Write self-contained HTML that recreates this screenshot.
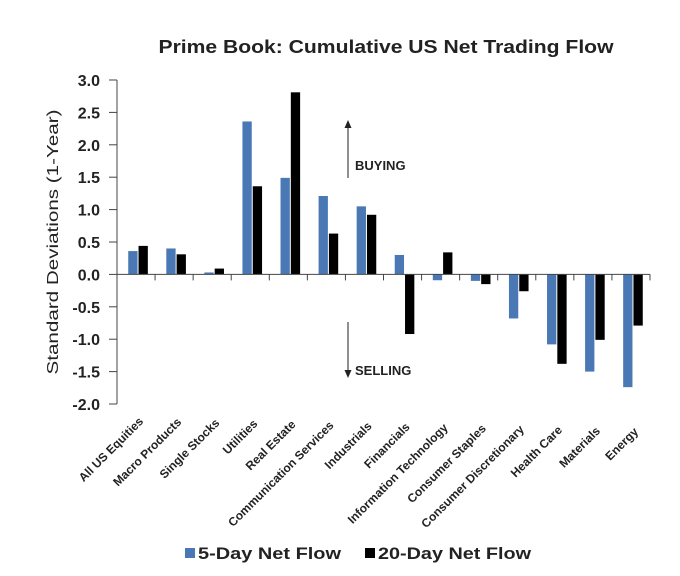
<!DOCTYPE html>
<html><head><meta charset="utf-8"><style>
html,body{margin:0;padding:0;background:#fff;}
svg{display:block;font-family:"Liberation Sans",Arial,sans-serif;}
</style></head><body>
<svg id="chart" width="680" height="576" viewBox="0 0 680 576">
<text x="386" y="53" text-anchor="middle" font-size="18" font-weight="bold" fill="#222" textLength="455" lengthAdjust="spacingAndGlyphs">Prime Book: Cumulative US Net Trading Flow</text>
<text transform="translate(58,242) rotate(-90)" text-anchor="middle" font-size="16" fill="#222" textLength="265" lengthAdjust="spacingAndGlyphs">Standard Deviations (1-Year)</text>
<g id="yaxis"></g>
<g id="bars"></g>
<g id="xaxis"></g>
<g>
<line x1="348" y1="178" x2="348" y2="127" stroke="#222" stroke-width="1"/>
<polygon points="344.5,128 351.5,128 348,120" fill="#222"/>
<text x="355" y="170" font-size="13" font-weight="bold" fill="#222">BUYING</text>
</g>
<g>
<line x1="348" y1="322" x2="348" y2="371" stroke="#222" stroke-width="1"/>
<polygon points="344.5,370 351.5,370 348,378" fill="#222"/>
<text x="355" y="375" font-size="13" font-weight="bold" fill="#222">SELLING</text>
</g>
<g>
<rect x="185" y="548" width="10" height="10" fill="#4a78b5"/>
<text x="198" y="559" font-size="17" font-weight="bold" fill="#222" textLength="143" lengthAdjust="spacingAndGlyphs">5-Day Net Flow</text>
<rect x="365" y="548" width="10" height="10" fill="#000"/>
<text x="378" y="559" font-size="17" font-weight="bold" fill="#222" textLength="153" lengthAdjust="spacingAndGlyphs">20-Day Net Flow</text>
</g>
</svg>
<script>
const categories = ["All US Equities","Macro Products","Single Stocks","Utilities","Real Estate","Communication Services","Industrials","Financials","Information Technology","Consumer Staples","Consumer Discretionary","Health Care","Materials","Energy"];
const fiveDay = [0.36,0.40,0.03,2.36,1.49,1.21,1.05,0.30,-0.09,-0.10,-0.68,-1.08,-1.50,-1.74];
const twentyDay = [0.44,0.31,0.09,1.36,2.81,0.63,0.92,-0.92,0.34,-0.15,-0.26,-1.38,-1.01,-0.79];
const yTicks = [3.0,2.5,2.0,1.5,1.0,0.5,0.0,-0.5,-1.0,-1.5,-2.0];

const NS = "http://www.w3.org/2000/svg";
const X0 = 117, X1 = 650, Y_TOP = 80, Y_BOT = 404, YMAX = 3, YMIN = -2;
const bandW = (X1 - X0) / categories.length;
function y(v){ return Y_TOP + (YMAX - v) / (YMAX - YMIN) * (Y_BOT - Y_TOP); }
function xc(i){ return X0 + bandW * (i + 0.5); }
function mk(tag, attrs, parent){ const e = document.createElementNS(NS, tag); for (const k in attrs) e.setAttribute(k, attrs[k]); parent.appendChild(e); return e; }

const yaxis = document.getElementById('yaxis');
const axl = mk('line', {x1:X0, y1:Y_TOP, x2:X0, y2:Y_BOT, stroke:'#444', 'stroke-width':1}, yaxis);


yTicks.forEach(t => {
  const tk = mk('line', {x1:X0-8, y1:y(t), x2:X0, y2:y(t), stroke:'#444', 'stroke-width':1}, yaxis);
  
  
  const lb = mk('text', {x:100, y:y(t)+6, 'text-anchor':'end', 'font-size':16, 'font-weight':'bold', fill:'#222'}, yaxis);
  lb.textContent = t.toFixed(1);
  
  
});

const bars = document.getElementById('bars');
const bw = 9.3;
categories.forEach((c, i) => {
  const cx = xc(i) + 2;
  [[fiveDay[i], '#4a78b5', cx - bw - 0.5, 'bar-5day'], [twentyDay[i], '#000', cx + 0.5, 'bar-20day']].forEach(([v, col, x, nm]) => {
    const top = Math.min(y(v), y(0)), h = Math.abs(y(v) - y(0));
    const r = mk('rect', {x:x, y:top, width:bw, height:Math.max(h,0.5), fill:col}, bars);
    
    
  });
});

const xaxis = document.getElementById('xaxis');
const zl = mk('line', {x1:X0, y1:y(0), x2:X1, y2:y(0), stroke:'#444', 'stroke-width':1}, xaxis);


for (let i = 1; i <= categories.length; i++) {
  const tx = X0 + bandW * i;
  const tk = mk('line', {x1:tx, y1:y(0), x2:tx, y2:y(0)+6, stroke:'#444', 'stroke-width':1}, xaxis);
  
  
}
categories.forEach((c, i) => {
  const ax = xc(i) + 8, ay = 422 + i * 0.8;
  const t = mk('text', {x:ax, y:ay, 'text-anchor':'end', 'font-size':12, 'font-weight':'bold', fill:'#222', transform:`rotate(-45 ${ax} ${ay})`}, xaxis);
  t.textContent = c;
  
  
});
</script>
</body></html>
